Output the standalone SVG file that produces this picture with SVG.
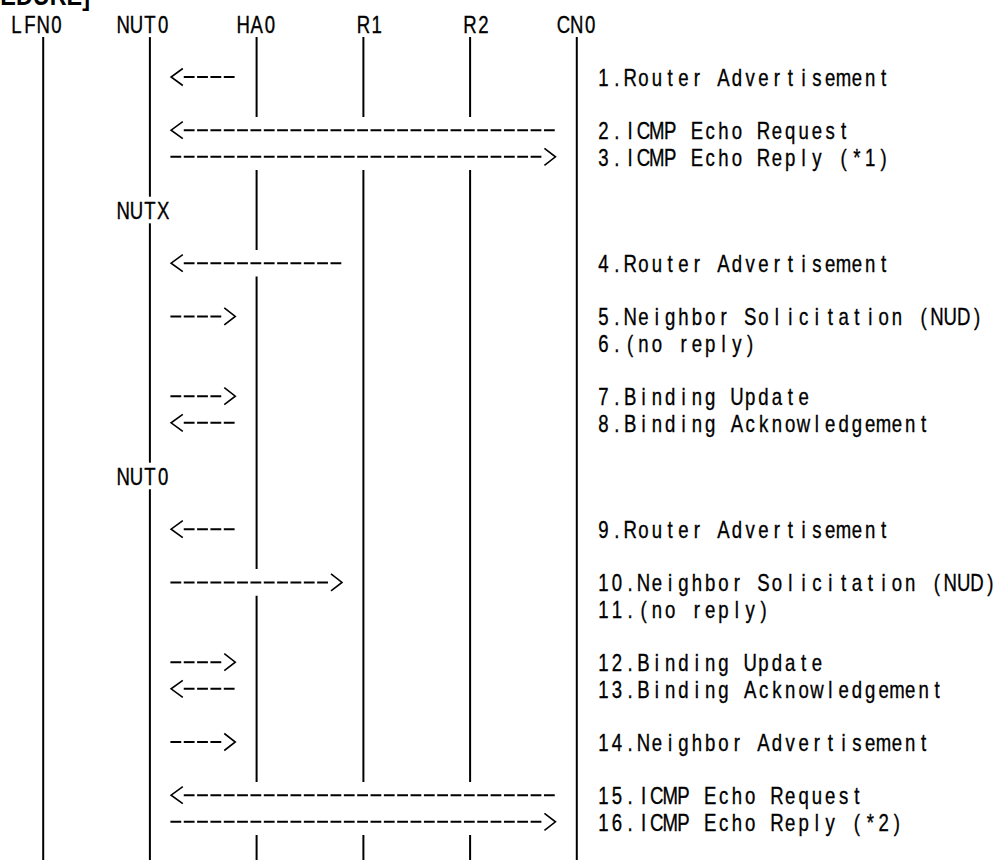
<svg xmlns="http://www.w3.org/2000/svg" width="994" height="860" viewBox="0 0 994 860">
<style>
.t{font-family:"Liberation Sans",Arial,sans-serif;font-size:23.8px;fill:#000;stroke:#000;stroke-width:0.35;text-anchor:middle}
.h{font-family:"Liberation Sans",Arial,sans-serif;font-size:28px;font-weight:bold;fill:#000}
.life{stroke:#000;stroke-width:2;fill:none}
.dash{stroke:#000;stroke-width:2;stroke-dasharray:10.8 2.54;fill:none}
.head{fill:none;stroke:#000;stroke-width:1.6}
</style>
<defs>
<path id="lt" class="head" d="M11.7,-8.5 L0,0 L11.7,8.5"/>
<path id="gt" class="head" d="M0,-8.5 L11,0 L0,8.5"/>
</defs>
<rect width="994" height="860" fill="#fff"/>
<text class="h" x="-75" y="5" textLength="165" lengthAdjust="spacingAndGlyphs">[PROCEDURE]</text>

<g id="LFN0">
<text class="t" transform="scale(0.78,1)" x="21.17 38.27 55.37 72.47" y="32.8">LFN0</text>
<line class="life" x1="43.2" y1="37.1" x2="43.2" y2="860"/>
</g>
<g id="NUT0">
<text class="t" transform="scale(0.78,1)" x="157.99 175.09 192.19 209.29" y="32.8">NUT0</text>
<line class="life" x1="149.9" y1="37.1" x2="149.9" y2="196.7"/>
<text class="t" transform="scale(0.78,1)" x="157.99 175.09 192.19 209.29" y="219">NUTX</text>
<line class="life" x1="149.9" y1="223.3" x2="149.9" y2="462.7"/>
<text class="t" transform="scale(0.78,1)" x="157.99 175.09 192.19 209.29" y="485">NUT0</text>
<line class="life" x1="149.9" y1="489.3" x2="149.9" y2="860"/>
</g>
<g id="HA0">
<text class="t" transform="scale(0.78,1)" x="311.91 329.01 346.12" y="32.8">HA0</text>
<path class="life" d="M256.6,37.1V116.9M256.6,170.1V249.9M256.6,276.5V569.1M256.6,595.7V781.9M256.6,835.1V860"/>
</g>
<g id="R1">
<text class="t" transform="scale(0.78,1)" x="465.83 482.94" y="32.8">R1</text>
<path class="life" d="M363.4,37.1V116.9M363.4,170.1V781.9M363.4,835.1V860"/>
</g>
<g id="R2">
<text class="t" transform="scale(0.78,1)" x="602.65 619.76" y="32.8">R2</text>
<path class="life" d="M470.1,37.1V116.9M470.1,170.1V781.9M470.1,835.1V860"/>
</g>
<g id="CN0">
<text class="t" transform="scale(0.78,1)" x="722.37 739.47 756.58" y="32.8">CN0</text>
<line class="life" x1="576.8" y1="37.1" x2="576.8" y2="860"/>
</g>

<g id="connectors">
<g id="m1"><use href="#lt" x="171.1" y="77"/><line class="dash" x1="183.76" y1="77" x2="234.58" y2="77"/></g>
<g id="m2"><use href="#lt" x="171.1" y="130.2"/><line class="dash" x1="183.76" y1="130.2" x2="554.74" y2="130.2"/></g>
<g id="m3"><line class="dash" x1="170.42" y1="156.8" x2="541.4" y2="156.8"/><use href="#gt" x="544.44" y="156.8"/></g>
<g id="m4"><use href="#lt" x="171.1" y="263.2"/><line class="dash" x1="183.76" y1="263.2" x2="341.3" y2="263.2"/></g>
<g id="m5"><line class="dash" x1="170.42" y1="316.4" x2="221.24" y2="316.4"/><use href="#gt" x="224.28" y="316.4"/></g>
<g id="m7"><line class="dash" x1="170.42" y1="396.2" x2="221.24" y2="396.2"/><use href="#gt" x="224.28" y="396.2"/></g>
<g id="m8"><use href="#lt" x="171.1" y="422.8"/><line class="dash" x1="183.76" y1="422.8" x2="234.58" y2="422.8"/></g>
<g id="m9"><use href="#lt" x="171.1" y="529.2"/><line class="dash" x1="183.76" y1="529.2" x2="234.58" y2="529.2"/></g>
<g id="m10"><line class="dash" x1="170.42" y1="582.4" x2="327.96" y2="582.4"/><use href="#gt" x="331" y="582.4"/></g>
<g id="m12"><line class="dash" x1="170.42" y1="662.2" x2="221.24" y2="662.2"/><use href="#gt" x="224.28" y="662.2"/></g>
<g id="m13"><use href="#lt" x="171.1" y="688.8"/><line class="dash" x1="183.76" y1="688.8" x2="234.58" y2="688.8"/></g>
<g id="m14"><line class="dash" x1="170.42" y1="742" x2="221.24" y2="742"/><use href="#gt" x="224.28" y="742"/></g>
<g id="m15"><use href="#lt" x="171.1" y="795.2"/><line class="dash" x1="183.76" y1="795.2" x2="554.74" y2="795.2"/></g>
<g id="m16"><line class="dash" x1="170.42" y1="821.8" x2="541.4" y2="821.8"/><use href="#gt" x="544.44" y="821.8"/></g>
</g>

<g id="labels" transform="scale(0.78,1)">
<text class="t" y="86" x="773.68 790.78 807.88 824.99 842.09 859.19 876.30 893.40 910.50 927.60 944.71 961.81 978.91 996.01 1013.12 1030.22 1047.32 1064.42 1081.53 1098.63 1115.73 1132.83 1149.94 1167.04 1184.14 1201.24 1218.35 1235.45 1252.55 1269.65">1.Router Advertisement</text>
<text class="t" y="139.2" x="773.68 790.78 807.88 824.99 842.09 859.19 876.30 893.40 910.50 927.60 944.71 961.81 978.91 996.01 1013.12 1030.22 1047.32 1064.42 1081.53 1098.63 1115.73 1132.83 1149.94 1167.04 1184.14 1201.24 1218.35 1235.45 1252.55 1269.65">2.ICMP Echo Request</text>
<text class="t" y="165.8" x="773.68 790.78 807.88 824.99 842.09 859.19 876.30 893.40 910.50 927.60 944.71 961.81 978.91 996.01 1013.12 1030.22 1047.32 1064.42 1081.53 1098.63 1115.73 1132.83 1149.94 1167.04 1184.14 1201.24 1218.35 1235.45 1252.55 1269.65">3.ICMP Echo Reply (*1)</text>
<text class="t" y="272.2" x="773.68 790.78 807.88 824.99 842.09 859.19 876.30 893.40 910.50 927.60 944.71 961.81 978.91 996.01 1013.12 1030.22 1047.32 1064.42 1081.53 1098.63 1115.73 1132.83 1149.94 1167.04 1184.14 1201.24 1218.35 1235.45 1252.55 1269.65">4.Router Advertisement</text>
<text class="t" y="325.4" x="773.68 790.78 807.88 824.99 842.09 859.19 876.30 893.40 910.50 927.60 944.71 961.81 978.91 996.01 1013.12 1030.22 1047.32 1064.42 1081.53 1098.63 1115.73 1132.83 1149.94 1167.04 1184.14 1201.24 1218.35 1235.45 1252.55 1269.65">5.Neighbor Solicitation (NUD)</text>
<text class="t" y="352" x="773.68 790.78 807.88 824.99 842.09 859.19 876.30 893.40 910.50 927.60 944.71 961.81 978.91 996.01 1013.12 1030.22 1047.32 1064.42 1081.53 1098.63 1115.73 1132.83 1149.94 1167.04 1184.14 1201.24 1218.35 1235.45 1252.55 1269.65">6.(no reply)</text>
<text class="t" y="405.2" x="773.68 790.78 807.88 824.99 842.09 859.19 876.30 893.40 910.50 927.60 944.71 961.81 978.91 996.01 1013.12 1030.22 1047.32 1064.42 1081.53 1098.63 1115.73 1132.83 1149.94 1167.04 1184.14 1201.24 1218.35 1235.45 1252.55 1269.65">7.Binding Update</text>
<text class="t" y="431.8" x="773.68 790.78 807.88 824.99 842.09 859.19 876.30 893.40 910.50 927.60 944.71 961.81 978.91 996.01 1013.12 1030.22 1047.32 1064.42 1081.53 1098.63 1115.73 1132.83 1149.94 1167.04 1184.14 1201.24 1218.35 1235.45 1252.55 1269.65">8.Binding Acknowledgement</text>
<text class="t" y="538.2" x="773.68 790.78 807.88 824.99 842.09 859.19 876.30 893.40 910.50 927.60 944.71 961.81 978.91 996.01 1013.12 1030.22 1047.32 1064.42 1081.53 1098.63 1115.73 1132.83 1149.94 1167.04 1184.14 1201.24 1218.35 1235.45 1252.55 1269.65">9.Router Advertisement</text>
<text class="t" y="591.4" x="773.68 790.78 807.88 824.99 842.09 859.19 876.30 893.40 910.50 927.60 944.71 961.81 978.91 996.01 1013.12 1030.22 1047.32 1064.42 1081.53 1098.63 1115.73 1132.83 1149.94 1167.04 1184.14 1201.24 1218.35 1235.45 1252.55 1269.65">10.Neighbor Solicitation (NUD)</text>
<text class="t" y="618" x="773.68 790.78 807.88 824.99 842.09 859.19 876.30 893.40 910.50 927.60 944.71 961.81 978.91 996.01 1013.12 1030.22 1047.32 1064.42 1081.53 1098.63 1115.73 1132.83 1149.94 1167.04 1184.14 1201.24 1218.35 1235.45 1252.55 1269.65">11.(no reply)</text>
<text class="t" y="671.2" x="773.68 790.78 807.88 824.99 842.09 859.19 876.30 893.40 910.50 927.60 944.71 961.81 978.91 996.01 1013.12 1030.22 1047.32 1064.42 1081.53 1098.63 1115.73 1132.83 1149.94 1167.04 1184.14 1201.24 1218.35 1235.45 1252.55 1269.65">12.Binding Update</text>
<text class="t" y="697.8" x="773.68 790.78 807.88 824.99 842.09 859.19 876.30 893.40 910.50 927.60 944.71 961.81 978.91 996.01 1013.12 1030.22 1047.32 1064.42 1081.53 1098.63 1115.73 1132.83 1149.94 1167.04 1184.14 1201.24 1218.35 1235.45 1252.55 1269.65">13.Binding Acknowledgement</text>
<text class="t" y="751" x="773.68 790.78 807.88 824.99 842.09 859.19 876.30 893.40 910.50 927.60 944.71 961.81 978.91 996.01 1013.12 1030.22 1047.32 1064.42 1081.53 1098.63 1115.73 1132.83 1149.94 1167.04 1184.14 1201.24 1218.35 1235.45 1252.55 1269.65">14.Neighbor Advertisement</text>
<text class="t" y="804.2" x="773.68 790.78 807.88 824.99 842.09 859.19 876.30 893.40 910.50 927.60 944.71 961.81 978.91 996.01 1013.12 1030.22 1047.32 1064.42 1081.53 1098.63 1115.73 1132.83 1149.94 1167.04 1184.14 1201.24 1218.35 1235.45 1252.55 1269.65">15.ICMP Echo Request</text>
<text class="t" y="830.8" x="773.68 790.78 807.88 824.99 842.09 859.19 876.30 893.40 910.50 927.60 944.71 961.81 978.91 996.01 1013.12 1030.22 1047.32 1064.42 1081.53 1098.63 1115.73 1132.83 1149.94 1167.04 1184.14 1201.24 1218.35 1235.45 1252.55 1269.65">16.ICMP Echo Reply (*2)</text>
</g>
</svg>
